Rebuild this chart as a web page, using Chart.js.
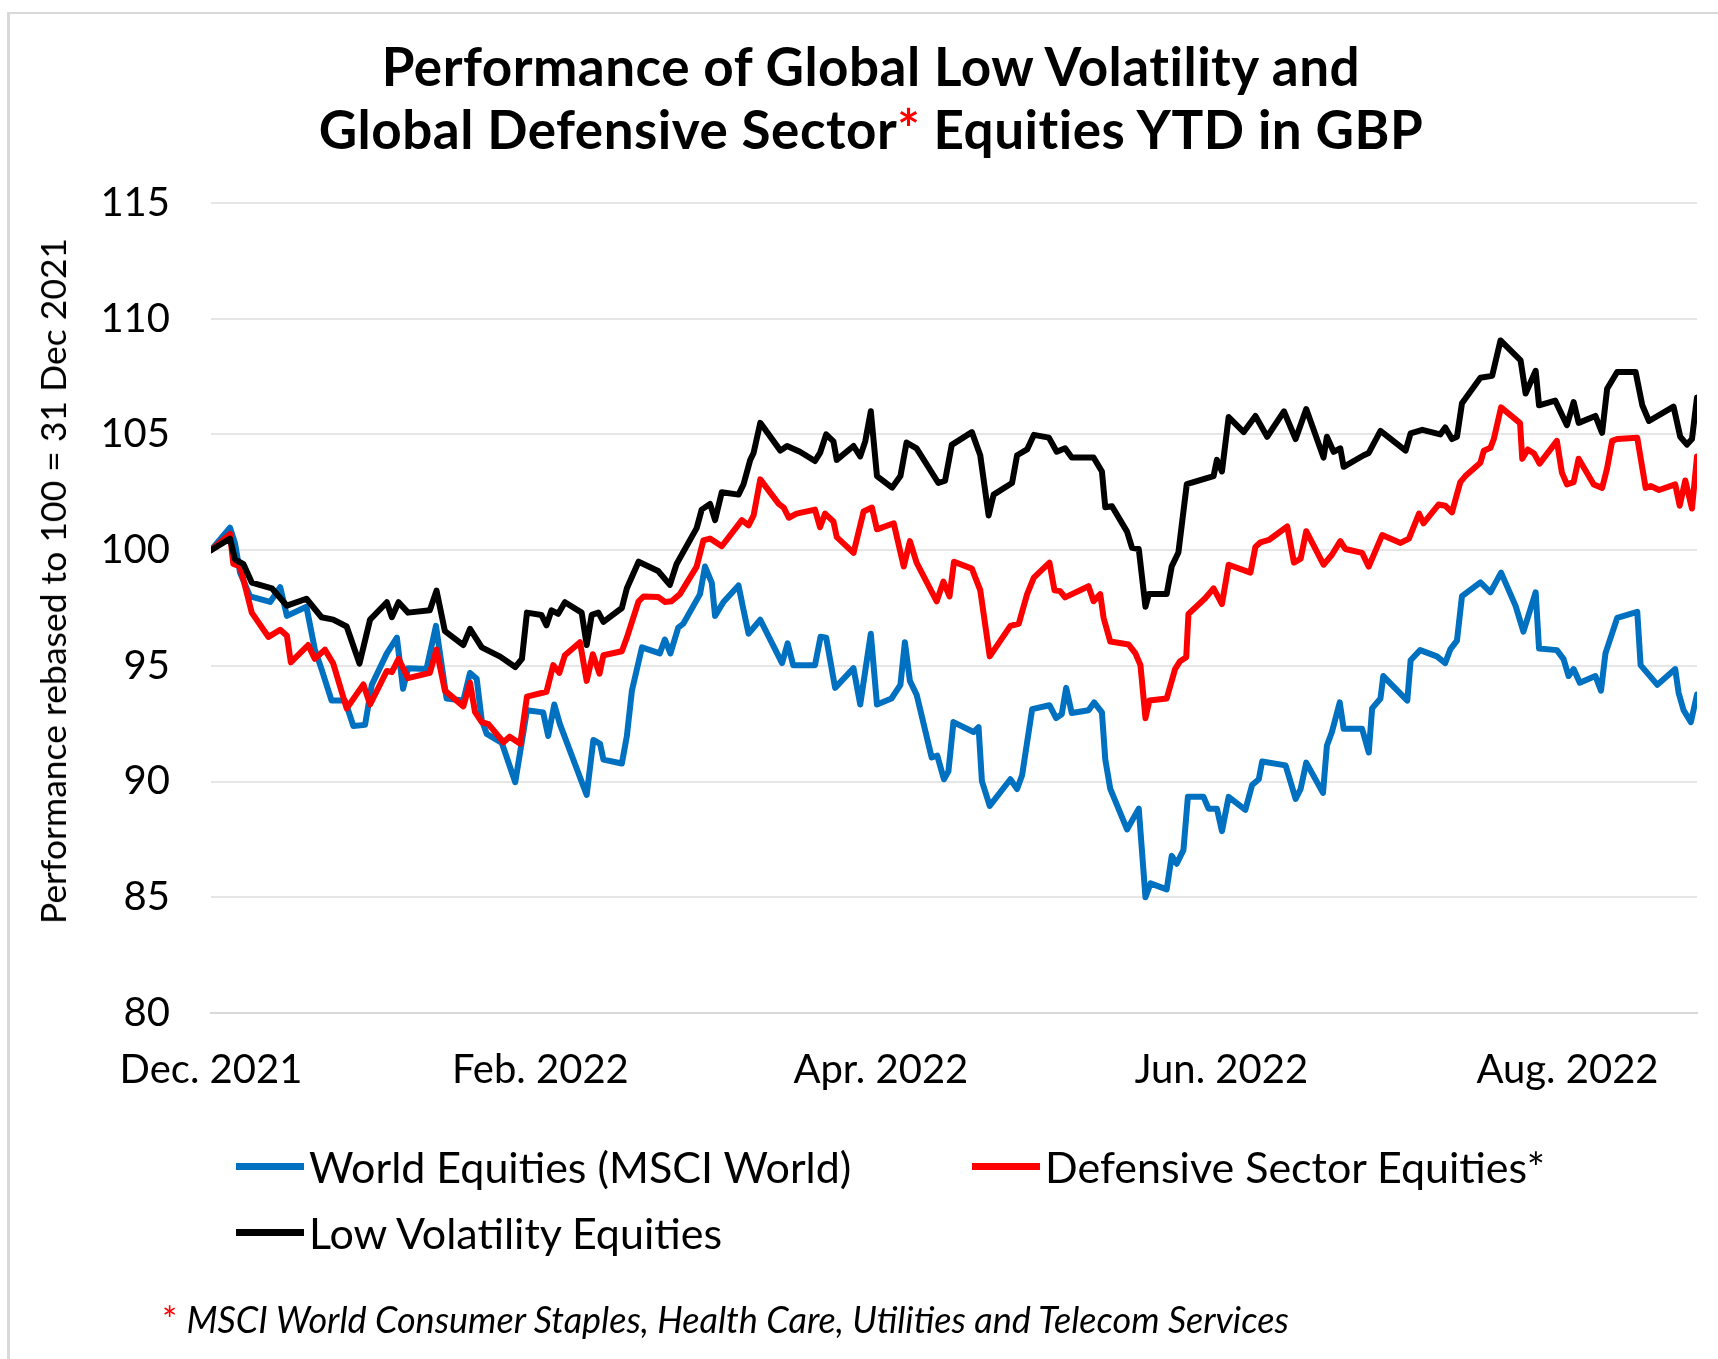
<!DOCTYPE html>
<html>
<head>
<meta charset="utf-8">
<title>Performance of Global Low Volatility and Global Defensive Sector Equities YTD in GBP</title>
<script src="https://cdn.jsdelivr.net/npm/chart.js@4.4.1/dist/chart.umd.min.js"></script>
<style>
  html, body { margin: 0; padding: 0; background: #fff; }
  #lienzo { position: relative; width: 1718px; height: 1359px; overflow: hidden; background: #fff; font-family: Lato, "Open Sans", sans-serif; color: #000; }
  #marco { position: absolute; left: 7px; top: 12px; width: 1800px; height: 1500px; border-top: 2px solid #d9d9d9; border-left: 3px solid #d9d9d9; }
  #myChart { position: absolute; left: 0; top: 0; }
  .titulo { position: absolute; left: 0; width: 1742px; text-align: center; white-space: nowrap; font-weight: bold; font-size: 53px; letter-spacing: 0.5px; line-height: 63px; }
  .rojo { color: #ff0000; }
  #tituloY { position: absolute; left: 53px; top: 581px; transform: translate(-50%, -50%) rotate(-90deg); white-space: nowrap; font-size: 35.5px; line-height: 40px; }
  .leyenda { position: absolute; height: 60px; display: flex; align-items: center; white-space: nowrap; font-size: 43px; }
  .leyenda .linea { width: 68px; height: 7px; margin-right: 5px; }
  #nota { position: absolute; left: 162px; top: 1299px; white-space: nowrap; font-size: 36px; line-height: 40px; }
  #nota i { font-style: italic; }
</style>
</head>
<body>
<div id="lienzo">
  <div id="marco"></div>
  <canvas id="myChart" width="1718" height="1359"></canvas>
  <div class="titulo" style="top:34px">Performance of Global Low Volatility and</div>
  <div class="titulo" style="top:97px">Global Defensive Sector<span class="rojo">*</span> Equities YTD in GBP</div>
  <div id="tituloY">Performance rebased to 100 = 31 Dec 2021</div>
  <div id="leyenda"></div>
  <div id="nota"><span class="rojo">*</span> <i>MSCI World Consumer Staples, Health Care, Utilities and Telecom Services</i></div>
</div>
<script>
// Nombres de las series
const seriesNames = ["World Equities (MSCI World)", "Defensive Sector Equities*", "Low Volatility Equities"];
const seriesColors = ["#0070C0", "#FF0000", "#000000"];

// Eje X: dias desde el 31 Dec 2021 y sus etiquetas
const tickDays = [0, 59, 120, 181, 243];
const tickLabels = ["Dec. 2021", "Feb. 2022", "Apr. 2022", "Jun. 2022", "Aug. 2022"];
const lastDay = 266.2;

// Eje Y
const yMin = 80;
const yMax = 115;
const yStep = 5;

// World Equities (MSCI World)
const worldDays = [0, 3.4, 4.3, 5.2, 7.0, 10.6, 12.4, 13.6, 17.1, 18.6, 19.8, 21.6, 24.0, 25.5, 27.6, 28.8, 31.5, 33.3, 34.4, 35.3,
  38.6, 40.3, 42.2, 45.2, 46.4, 47.6, 48.5, 49.4, 52.1, 54.5, 56.6, 59.5, 60.4, 61.5, 62.5, 67.3, 68.5, 69.7, 70.3, 73.6,
  74.5, 75.4, 77.2, 80.4, 81.3, 82.3, 83.7, 84.6, 87.6, 88.5, 89.7, 90.3, 91.8, 94.5, 95.4, 96.3, 98.4, 102.3, 103.3, 104.3,
  108.2, 109.2, 110.2, 111.8, 115.1, 116.3, 118.2, 119.3, 121.9, 123.5, 124.3, 125.2, 126.4, 129.1, 130.1, 131.3, 132.1, 133.0, 136.6, 137.5,
  138.1, 139.5, 143.2, 144.4, 145.3, 147.1, 150.2, 151.4, 152.4, 153.2, 154.2, 157.2, 158.2, 159.6, 160.2, 161.1, 164.1, 166.2, 167.4, 168.3,
  171.2, 172.1, 173.0, 174.2, 175.0, 177.8, 178.7, 180.2, 181.1, 182.3, 185.3, 186.5, 187.7, 188.3, 192.5, 194.3, 195.2, 196.2, 199.2, 199.9,
  200.8, 202.2, 202.9, 206.2, 207.4, 208.0, 209.5, 210.0, 214.3, 214.9, 216.6, 219.6, 221.1, 222.0, 223.2, 224.1, 227.4, 229.2, 231.1, 233.7,
  235.1, 237.3, 237.9, 241.1, 242.3, 243.2, 244.1, 245.2, 248.0, 249.0, 249.8, 251.9, 255.5, 256.1, 259.1, 262.3, 262.9, 263.8, 265.1, 266.2];
const worldValues = [100.0, 100.97, 100.3, 99.03, 98.0, 97.76, 98.4, 97.16, 97.55, 95.71, 94.86, 93.5, 93.5, 92.4, 92.45, 94.18, 95.54, 96.22, 94.01, 94.9,
  94.86, 96.73, 93.59, 93.5, 94.69, 94.44, 92.65, 92.06, 91.67, 89.97, 93.08, 92.99, 91.97, 93.33, 92.48, 89.42, 91.8, 91.63, 90.95, 90.78,
  91.97, 93.93, 95.8, 95.54, 96.14, 95.54, 96.65, 96.82, 98.1, 99.29, 98.6, 97.16, 97.76, 98.47, 97.41, 96.39, 96.99, 95.12, 95.97, 95.03,
  95.03, 96.26, 96.22, 94.05, 94.9, 93.33, 96.39, 93.33, 93.59, 94.18, 96.02, 94.35, 93.76, 91.04, 91.12, 90.1, 90.44, 92.57, 92.14, 92.35,
  90.02, 88.95, 90.1, 89.68, 90.27, 93.13, 93.3, 92.74, 92.91, 94.05, 92.96, 93.08, 93.42, 92.99, 90.95, 89.68, 87.93, 88.83, 85.0, 85.6,
  85.34, 86.79, 86.45, 87.04, 89.34, 89.34, 88.83, 88.83, 87.86, 89.34, 88.78, 89.85, 90.1, 90.87, 90.7, 89.25, 89.68, 90.82, 89.51, 91.55,
  92.14, 93.42, 92.28, 92.28, 91.26, 93.16, 93.59, 94.56, 93.5, 95.24, 95.68, 95.41, 95.12, 95.71, 96.09, 98.01, 98.61, 98.18, 99.03, 97.59,
  96.48, 98.18, 95.75, 95.68, 95.29, 94.56, 94.86, 94.27, 94.56, 93.93, 95.54, 97.07, 97.33, 95.03, 94.18, 94.86, 93.84, 93.08, 92.57, 93.76];

// Defensive Sector Equities
const defensiveDays = [0, 3.4, 4.0, 5.2, 7.3, 10.3, 12.4, 13.6, 14.3, 17.4, 18.6, 20.4, 21.9, 24.3, 27.3, 28.5, 31.5, 32.4, 33.6, 35.3,
  39.2, 40.4, 41.9, 45.2, 46.4, 47.3, 48.5, 49.7, 52.4, 53.5, 55.4, 56.6, 60.1, 61.3, 62.4, 63.4, 66.1, 67.3, 68.4, 69.6,
  70.3, 73.6, 74.5, 76.6, 77.5, 80.1, 81.3, 82.5, 84.0, 87.0, 88.2, 89.4, 91.5, 95.1, 96.3, 97.2, 98.4, 101.7, 102.6, 103.5,
  104.9, 108.2, 109.1, 110.0, 111.5, 112.1, 115.1, 116.9, 118.4, 119.3, 122.3, 124.1, 125.2, 126.4, 130.0, 131.2, 132.3, 133.1, 136.3, 137.8,
  139.5, 143.2, 144.7, 146.2, 147.4, 150.2, 151.1, 152.1, 153.0, 157.2, 158.1, 159.3, 159.9, 161.1, 164.4, 165.6, 166.5, 167.4, 168.1, 171.2,
  172.7, 173.6, 174.7, 175.1, 178.1, 179.6, 181.1, 182.3, 186.2, 187.1, 188.0, 189.5, 192.8, 194.0, 195.2, 196.2, 199.3, 200.8, 202.3, 203.2,
  206.2, 207.4, 209.8, 213.1, 214.6, 216.4, 217.2, 219.9, 221.1, 222.3, 223.8, 224.7, 227.4, 228.0, 229.2, 229.8, 231.1, 234.5, 234.9, 235.9,
  237.0, 238.0, 241.1, 242.0, 242.9, 244.1, 245.0, 247.7, 249.2, 250.1, 251.0, 251.9, 255.5, 257.0, 257.9, 259.4, 262.3, 263.1, 264.1, 265.3, 266.2];
const defensiveValues = [100.0, 100.7, 99.4, 99.3, 97.3, 96.25, 96.56, 96.3, 95.15, 95.9, 95.3, 95.7, 95.1, 93.16, 94.2, 93.33, 94.78, 94.73, 95.3, 94.47,
  94.7, 95.7, 93.93, 93.25, 94.27, 93.0, 92.57, 92.48, 91.7, 91.94, 91.63, 93.67, 93.88, 95.03, 94.7, 95.46, 96.02, 94.35, 95.5, 94.66,
  95.46, 95.63, 96.22, 97.79, 98.0, 97.98, 97.76, 97.79, 98.1, 99.29, 100.42, 100.5, 100.17, 101.3, 101.07, 101.5, 103.06, 102.0, 101.84, 101.4,
  101.58, 101.75, 100.99, 101.58, 101.24, 100.56, 99.88, 101.67, 101.84, 100.9, 101.16, 99.29, 100.39, 99.46, 97.79, 98.64, 98.0, 99.5, 99.2, 98.27,
  95.41, 96.73, 96.82, 98.1, 98.81, 99.46, 98.27, 98.23, 97.96, 98.44, 97.79, 98.1, 97.07, 96.05, 95.92, 95.54, 95.03, 92.74, 93.5, 93.59,
  94.86, 95.2, 95.37, 97.24, 97.92, 98.35, 97.67, 99.37, 99.03, 100.14, 100.34, 100.44, 101.02, 99.46, 99.63, 100.82, 99.37, 99.8, 100.39, 100.05,
  99.88, 99.29, 100.65, 100.31, 100.5, 101.58, 101.16, 101.97, 101.92, 101.63, 102.94, 103.2, 103.78, 104.29, 104.42, 104.8, 106.17, 105.49, 103.95, 104.35,
  104.18, 103.74, 104.72, 103.35, 102.84, 102.94, 103.95, 102.84, 102.69, 103.54, 104.72, 104.8, 104.86, 102.69, 102.77, 102.6, 102.84, 101.92, 103.01, 101.8, 104.05];

// Low Volatility Equities
const lowVolDays = [0, 3.4, 4.3, 5.8, 7.3, 10.9, 13.6, 17.1, 19.8, 21.9, 24.3, 26.6, 28.5, 31.5, 32.4, 33.6, 35.3, 39.2, 40.4, 41.9,
  45.2, 46.4, 48.5, 51.8, 54.5, 55.7, 56.6, 59.2, 60.1, 61.0, 62.2, 63.4, 66.4, 67.3, 68.2, 69.4, 70.3, 73.6, 74.5, 76.6,
  80.1, 82.2, 83.4, 87.0, 87.9, 89.4, 90.3, 91.5, 94.5, 95.4, 96.6, 97.2, 98.4, 102.0, 103.2, 105.5, 108.2, 109.1, 110.2, 111.5,
  112.1, 115.1, 116.3, 117.2, 118.2, 119.3, 122.0, 123.5, 124.6, 126.4, 130.3, 131.5, 132.7, 136.3, 137.8, 139.3, 140.2, 143.5, 144.4, 146.2,
  147.4, 150.1, 151.5, 153.0, 154.2, 158.1, 159.6, 160.2, 161.4, 164.1, 165.0, 166.2, 167.4, 168.0, 171.2, 172.1, 173.3, 174.8, 179.6, 180.2,
  181.1, 182.3, 185.0, 187.1, 189.2, 192.2, 194.3, 196.2, 199.3, 199.9, 201.1, 202.3, 202.9, 206.5, 207.4, 209.5, 214.0, 214.9, 217.0, 220.2,
  221.1, 222.3, 223.2, 224.1, 227.4, 229.5, 231.0, 234.6, 235.5, 237.3, 237.9, 240.8, 242.9, 244.1, 245.0, 248.0, 249.2, 250.1, 251.9, 255.2,
  256.4, 257.6, 262.0, 263.2, 264.4, 265.3, 266.2];
const lowVolValues = [100.0, 100.5, 99.6, 99.4, 98.6, 98.35, 97.6, 97.9, 97.1, 97.0, 96.7, 95.1, 97.0, 97.75, 97.1, 97.75, 97.3, 97.4, 98.25, 96.5,
  95.9, 96.6, 95.8, 95.4, 94.95, 95.3, 97.3, 97.2, 96.75, 97.4, 97.25, 97.75, 97.3, 95.9, 97.2, 97.3, 96.9, 97.5, 98.35, 99.5,
  99.1, 98.5, 99.4, 100.95, 101.75, 102.0, 101.3, 102.5, 102.4, 102.85, 103.9, 104.2, 105.5, 104.3, 104.5, 104.25, 103.85, 104.2, 105.0, 104.7,
  103.9, 104.5, 104.05, 104.7, 106.0, 103.2, 102.7, 103.2, 104.65, 104.4, 102.9, 103.0, 104.55, 105.1, 104.1, 101.5, 102.4, 102.9, 104.1, 104.35,
  104.98, 104.86, 104.25, 104.4, 104.0, 104.0, 103.4, 101.85, 101.9, 100.8, 100.1, 100.05, 97.55, 98.1, 98.1, 99.3, 99.9, 102.85, 103.2, 103.9,
  103.4, 105.75, 105.1, 105.8, 104.9, 106.0, 104.8, 106.1, 104.0, 104.9, 104.25, 104.4, 103.6, 104.1, 104.2, 105.15, 104.3, 105.05, 105.2, 105.0,
  105.3, 104.8, 104.9, 106.35, 107.45, 107.53, 109.06, 108.2, 106.77, 107.75, 106.26, 106.46, 105.4, 106.4, 105.5, 105.8, 105.07, 106.97, 107.7, 107.7,
  106.26, 105.58, 106.2, 104.9, 104.56, 104.8, 106.6];

// Arma los puntos {x, y} de cada serie
function puntos(dias, valores) {
  return dias.map((d, i) => ({ x: d, y: valores[i] }));
}

const fuente = "Lato, 'Open Sans', sans-serif";

const data = {
  datasets: [
    { label: seriesNames[0], data: puntos(worldDays, worldValues), borderColor: seriesColors[0], order: 2 },
    { label: seriesNames[1], data: puntos(defensiveDays, defensiveValues), borderColor: seriesColors[1], order: 1 },
    { label: seriesNames[2], data: puntos(lowVolDays, lowVolValues), borderColor: seriesColors[2], order: 0 },
  ],
};

data.datasets.forEach((ds) => {
  ds.borderWidth = 6;
  ds.pointRadius = 0;
  ds.tension = 0;
  ds.fill = false;
  ds.borderJoinStyle = "round";
  ds.borderCapStyle = "round";
});

const config = {
  type: "line",
  data: data,
  options: {
    responsive: false,
    animation: false,
    devicePixelRatio: 1,
    layout: { padding: { left: 20, right: 21, top: 203, bottom: 246 } },
    plugins: {
      legend: { display: false },
      tooltip: { enabled: false },
    },
    scales: {
      x: {
        type: "linear",
        min: 0,
        max: lastDay,
        afterBuildTicks: (scale) => {
          scale.ticks = tickDays.map((v) => ({ value: v }));
        },
        afterFit: (scale) => {
          scale.height = 100;
        },
        ticks: {
          autoSkip: false,
          maxRotation: 0,
          color: "#000",
          padding: 25,
          font: { family: fuente, size: 40 },
          callback: (value, index) => tickLabels[index],
        },
        grid: { display: false },
        border: { display: true, color: "#d9d9d9", width: 2 },
      },
      y: {
        min: yMin,
        max: yMax,
        afterFit: (scale) => {
          scale.width = 191;
        },
        ticks: {
          stepSize: yStep,
          color: "#000",
          padding: 41,
          font: { family: fuente, size: 40 },
        },
        grid: { color: "#e6e6e6", lineWidth: 2, drawTicks: false },
        border: { display: false },
      },
    },
  },
};

const myChart = new Chart(document.getElementById("myChart"), config);

// Leyenda en HTML a partir de los datasets del grafico
const posLeyenda = [
  { left: 236, top: 1136 },
  { left: 972, top: 1136 },
  { left: 236, top: 1202 },
];
const contLeyenda = document.getElementById("leyenda");
myChart.data.datasets.forEach((ds, i) => {
  const item = document.createElement("div");
  item.className = "leyenda";
  item.style.left = posLeyenda[i].left + "px";
  item.style.top = posLeyenda[i].top + "px";
  const linea = document.createElement("span");
  linea.className = "linea";
  linea.style.background = ds.borderColor;
  const texto = document.createElement("span");
  texto.textContent = ds.label;
  item.appendChild(linea);
  item.appendChild(texto);
  contLeyenda.appendChild(item);
});
</script>
</body>
</html>
